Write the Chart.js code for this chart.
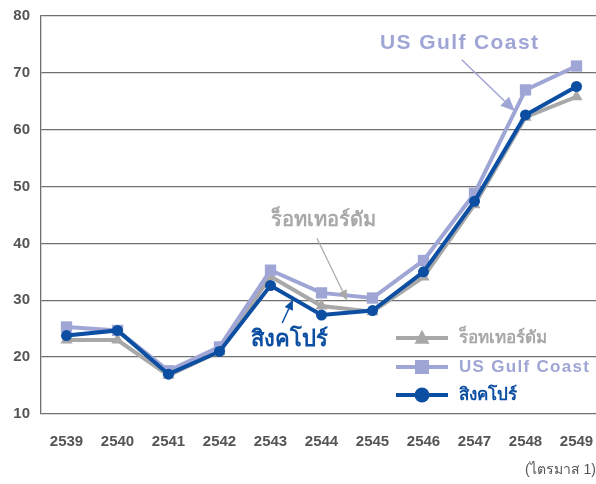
<!DOCTYPE html>
<html>
<head>
<meta charset="utf-8">
<script src="https://cdn.jsdelivr.net/npm/chart.js@4/dist/chart.umd.min.js"></script>
<style>
  html, body { margin: 0; padding: 0; background: #fff; overflow: hidden; }
  #wrap { width: 602px; height: 484px; }
</style>
</head>
<body>
<div id="wrap"><canvas id="c" width="602" height="484"></canvas></div>
<script>
const years = ['2539','2540','2541','2542','2543','2544','2545','2546','2547','2548','2549'];
const rotterdam = [23.0, 23.0, 16.8, 21.0, 34.2, 29.0, 28.0, 34.1, 46.8, 62.2, 65.8];
const usGulf    = [25.3, 24.7, 17.6, 21.8, 35.3, 31.3, 30.4, 37.0, 48.8, 67.0, 71.2];
const singapore = [23.8, 24.7, 17.0, 21.0, 32.6, 27.4, 28.2, 35.0, 47.4, 62.6, 67.6];
const yTicks = [10, 20, 30, 40, 50, 60, 70, 80];
const seriesNames = ['ร็อทเทอร์ดัม', 'US Gulf Coast', 'สิงคโปร์'];
const unitNote = '(ไตรมาส 1)';

const GRAY = '#a8a8a8', LAV = '#9fa5d5', BLUE = '#0b4ea2';
const FONT = '"Liberation Sans", Arial, "Noto Sans", sans-serif';

function marker(ctx, style, x, y, r, color) {
  ctx.save();
  ctx.fillStyle = color;
  ctx.beginPath();
  if (style === 'circle') {
    ctx.arc(x, y, r, 0, Math.PI * 2);
  } else if (style === 'rect') {
    ctx.rect(x - r, y - r, 2 * r, 2 * r);
  } else {
    ctx.moveTo(x, y - r * 1.1);
    ctx.lineTo(x + r, y + r * 0.75);
    ctx.lineTo(x - r, y + r * 0.75);
    ctx.closePath();
  }
  ctx.fill();
  ctx.restore();
}

function arrow(ctx, x1, y1, x2, y2, color, lw, head) {
  ctx.save();
  ctx.strokeStyle = color; ctx.fillStyle = color; ctx.lineWidth = lw;
  const a = Math.atan2(y2 - y1, x2 - x1);
  const bx = x2 - Math.cos(a) * head, by = y2 - Math.sin(a) * head;
  ctx.beginPath(); ctx.moveTo(x1, y1); ctx.lineTo(bx, by); ctx.stroke();
  ctx.beginPath();
  ctx.moveTo(x2, y2);
  ctx.lineTo(bx + Math.cos(a + Math.PI / 2) * head * 0.45, by + Math.sin(a + Math.PI / 2) * head * 0.45);
  ctx.lineTo(bx + Math.cos(a - Math.PI / 2) * head * 0.45, by + Math.sin(a - Math.PI / 2) * head * 0.45);
  ctx.closePath(); ctx.fill();
  ctx.restore();
}

const decor = {
  id: 'decor',
  afterDatasetsDraw(chart) {
    const ctx = chart.ctx;
    const xs = chart.scales.x, ys = chart.scales.y;
    const X = v => xs.left + (v + 0.5) * (xs.width / years.length);
    const Y = v => ys.getPixelForValue(v);

    // callout labels (positions in data space)
    ctx.save();
    ctx.textAlign = 'center'; ctx.textBaseline = 'middle';
    ctx.fillStyle = LAV; ctx.font = 'bold 21px ' + FONT;
    ctx.letterSpacing = '1.4px';
    ctx.fillText(seriesNames[1], X(7.71), Y(75.2));
    ctx.letterSpacing = '0px';
    ctx.fillStyle = GRAY; ctx.font = 'bold 20px ' + FONT;
    ctx.fillText(seriesNames[0], X(5.03), Y(44.1));
    ctx.fillStyle = BLUE; ctx.font = 'bold 22px ' + FONT;
    ctx.fillText(seriesNames[2], X(4.38), Y(23.0));
    ctx.restore();
    arrow(ctx, X(7.75), Y(72.3), X(8.79), Y(63.3), LAV, 1.5, 14);
    arrow(ctx, X(4.91), Y(40.9), X(5.5), Y(30.0), GRAY, 1.2, 10);
    arrow(ctx, X(4.23), Y(26.0), X(4.44), Y(30.1), BLUE, 1.5, 10);

    // legend
    const rows = [
      { name: seriesNames[0], color: GRAY, style: 'tri', r: 7.5, y: 338 },
      { name: seriesNames[1], color: LAV, style: 'rect', r: 7, y: 367 },
      { name: seriesNames[2], color: BLUE, style: 'circle', r: 7.5, y: 395 }
    ];
    rows.forEach(rw => {
      ctx.save();
      ctx.strokeStyle = rw.color; ctx.lineWidth = 4;
      ctx.beginPath(); ctx.moveTo(396, rw.y); ctx.lineTo(448, rw.y); ctx.stroke();
      marker(ctx, rw.style, 422, rw.y, rw.r, rw.color);
      ctx.fillStyle = rw.color; ctx.font = 'bold 17px ' + FONT;
      ctx.textAlign = 'left'; ctx.textBaseline = 'middle';
      ctx.letterSpacing = rw.style === 'rect' ? '1.3px' : '0px';
      ctx.fillText(rw.name, 459, rw.y);
      ctx.restore();
    });

    // unit note
    ctx.save();
    ctx.fillStyle = '#555'; ctx.font = '14px ' + FONT;
    ctx.textAlign = 'right'; ctx.textBaseline = 'middle';
    ctx.fillText(unitNote, 596, 470);
    ctx.restore();
  }
};

new Chart(document.getElementById('c'), {
  type: 'line',
  data: {
    labels: years,
    datasets: [
      { label: seriesNames[0], data: rotterdam, borderColor: GRAY, backgroundColor: GRAY,
        borderWidth: 4, pointStyle: 'triangle', pointRadius: 7, pointBorderWidth: 0, order: 3, tension: 0 },
      { label: seriesNames[1], data: usGulf, borderColor: LAV, backgroundColor: LAV,
        borderWidth: 4, pointStyle: 'rect', pointRadius: 8, pointBorderWidth: 0, order: 2, tension: 0 },
      { label: seriesNames[2], data: singapore, borderColor: BLUE, backgroundColor: BLUE,
        borderWidth: 4, pointStyle: 'circle', pointRadius: 5.5, pointBorderWidth: 0, order: 1, tension: 0 }
    ]
  },
  options: {
    responsive: false,
    animation: false,
    devicePixelRatio: 1,
    layout: { autoPadding: false, padding: { top: 16, left: 0, right: 0, bottom: 0 } },
    plugins: { legend: { display: false }, tooltip: { enabled: false } },
    scales: {
      x: {
        offset: true,
        grid: { display: false, drawTicks: true, tickLength: 19 },
        border: { display: false },
        ticks: { color: '#555', font: { family: FONT, size: 15, weight: 'bold' }, padding: 0, maxRotation: 0, autoSkip: false },
        afterFit: s => { s.height = 70; s.paddingLeft = 0; s.paddingRight = 0; }
      },
      y: {
        min: 10, max: 80,
        afterBuildTicks: s => { s.ticks = yTicks.map(v => ({ value: v })); },
        grid: { color: '#707070', lineWidth: 1.3, drawTicks: true, tickLength: 11, tickColor: 'rgba(0,0,0,0)' },
        border: { display: true, color: '#707070', width: 1.3 },
        ticks: { color: '#555', font: { family: FONT, size: 15, weight: 'bold' }, padding: 0 },
        afterFit: s => { s.width = 41; }
      }
    }
  },
  plugins: [decor]
});
</script>
</body>
</html>
